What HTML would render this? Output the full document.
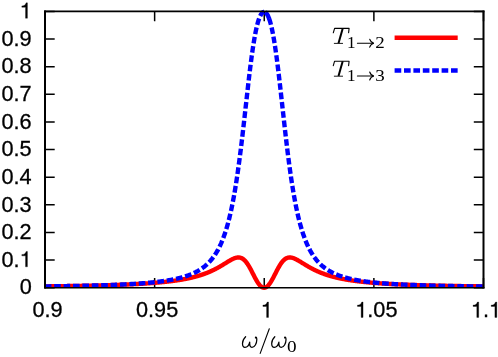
<!DOCTYPE html>
<html><head><meta charset="utf-8"><title>plot</title>
<style>
html,body{margin:0;padding:0;background:#fff;}
body{width:498px;height:357px;overflow:hidden;position:relative;}
svg{position:absolute;left:0;top:0;will-change:transform;}
text{font-family:"Liberation Sans",sans-serif;font-size:21.7px;fill:#000;stroke:#000;stroke-width:0.3px;}
.h{fill-opacity:0;stroke-opacity:0;}
.m{stroke:none;font-family:"Liberation Serif",serif;font-style:italic;font-size:25px;}
.s{stroke:none;font-family:"Liberation Serif",serif;font-style:normal;font-size:17.2px;}
</style></head><body>
<svg width="498" height="357" viewBox="0 0 498 357">
<defs><clipPath id="c"><path d="M0,0H498V288H274V292H254V288H0Z"/></clipPath></defs>

<g>
<text x="31.7" y="294.45" text-anchor="end">0</text>
<text x="31.7" y="266.83" text-anchor="end">0.<tspan class="h o">1</tspan></text>
<text x="31.7" y="239.21" text-anchor="end">0.2</text>
<text x="31.7" y="211.59" text-anchor="end">0.3</text>
<text x="31.7" y="183.97" text-anchor="end">0.4</text>
<text x="31.7" y="156.35" text-anchor="end">0.5</text>
<text x="31.7" y="128.73" text-anchor="end">0.6</text>
<text x="31.7" y="101.11" text-anchor="end">0.7</text>
<text x="31.7" y="73.49" text-anchor="end">0.8</text>
<text x="31.7" y="45.87" text-anchor="end">0.9</text>
<text x="31.7" y="18.25" text-anchor="end"><tspan class="h o">1</tspan></text>
<text x="47.50" y="317.4" text-anchor="middle">0.9</text>
<text x="157.13" y="317.4" text-anchor="middle">0.95</text>
<text x="266.75" y="317.4" text-anchor="middle"><tspan class="h o">1</tspan></text>
<text x="376.38" y="317.4" text-anchor="middle"><tspan class="h o">1</tspan>.05</text>
<text x="486.00" y="317.4" text-anchor="middle"><tspan class="h o">1</tspan>.<tspan class="h o">1</tspan></text>
</g>
<g fill="none" stroke="#000" stroke-width="1.5">
<path d="M45.0,287.65h9.7M483.5,287.65h-9.7"/>
<path d="M45.0,260.03h9.7M483.5,260.03h-9.7"/>
<path d="M45.0,232.41h9.7M483.5,232.41h-9.7"/>
<path d="M45.0,204.79h9.7M483.5,204.79h-9.7"/>
<path d="M45.0,177.17h9.7M483.5,177.17h-9.7"/>
<path d="M45.0,149.55h9.7M483.5,149.55h-9.7"/>
<path d="M45.0,121.93h9.7M483.5,121.93h-9.7"/>
<path d="M45.0,94.31h9.7M483.5,94.31h-9.7"/>
<path d="M45.0,66.69h9.7M483.5,66.69h-9.7"/>
<path d="M45.0,39.07h9.7M483.5,39.07h-9.7"/>
<path d="M45.0,11.45h9.7M483.5,11.45h-9.7"/>
<path d="M45.00,287.65v-9.7M45.00,11.45v9.7"/>
<path d="M154.63,287.65v-9.7M154.63,11.45v9.7"/>
<path d="M264.25,287.65v-9.7M264.25,11.45v9.7"/>
<path d="M373.88,287.65v-9.7M373.88,11.45v9.7"/>
<path d="M483.50,287.65v-9.7M483.50,11.45v9.7"/>
</g>
<g fill="none" stroke-linejoin="round" clip-path="url(#c)">
<path d="M44.80,286.37 L45.17,286.36 L45.53,286.36 L45.90,286.36 L46.26,286.35 L46.63,286.35 L46.99,286.34 L47.36,286.34 L47.72,286.33 L48.09,286.33 L48.46,286.33 L48.82,286.32 L49.19,286.32 L49.55,286.31 L49.92,286.31 L50.28,286.30 L50.65,286.30 L51.01,286.29 L51.38,286.29 L51.74,286.29 L52.11,286.28 L52.48,286.28 L52.84,286.27 L53.21,286.27 L53.57,286.26 L53.94,286.26 L54.30,286.25 L54.67,286.25 L55.03,286.24 L55.40,286.24 L55.77,286.23 L56.13,286.23 L56.50,286.22 L56.86,286.22 L57.23,286.21 L57.59,286.21 L57.96,286.20 L58.32,286.20 L58.69,286.20 L59.05,286.19 L59.42,286.19 L59.79,286.18 L60.15,286.17 L60.52,286.17 L60.88,286.16 L61.25,286.16 L61.61,286.15 L61.98,286.15 L62.34,286.14 L62.71,286.14 L63.07,286.13 L63.44,286.13 L63.81,286.12 L64.17,286.12 L64.54,286.11 L64.90,286.11 L65.27,286.10 L65.63,286.10 L66.00,286.09 L66.36,286.08 L66.73,286.08 L67.10,286.07 L67.46,286.07 L67.83,286.06 L68.19,286.06 L68.56,286.05 L68.92,286.04 L69.29,286.04 L69.65,286.03 L70.02,286.03 L70.39,286.02 L70.75,286.02 L71.12,286.01 L71.48,286.00 L71.85,286.00 L72.21,285.99 L72.58,285.99 L72.94,285.98 L73.31,285.97 L73.67,285.97 L74.04,285.96 L74.41,285.95 L74.77,285.95 L75.14,285.94 L75.50,285.94 L75.87,285.93 L76.23,285.92 L76.60,285.92 L76.96,285.91 L77.33,285.90 L77.70,285.90 L78.06,285.89 L78.43,285.88 L78.79,285.88 L79.16,285.87 L79.52,285.86 L79.89,285.86 L80.25,285.85 L80.62,285.84 L80.98,285.84 L81.35,285.83 L81.72,285.82 L82.08,285.81 L82.45,285.81 L82.81,285.80 L83.18,285.79 L83.54,285.79 L83.91,285.78 L84.27,285.77 L84.64,285.76 L85.00,285.76 L85.37,285.75 L85.74,285.74 L86.10,285.73 L86.47,285.73 L86.83,285.72 L87.20,285.71 L87.56,285.70 L87.93,285.70 L88.29,285.69 L88.66,285.68 L89.03,285.67 L89.39,285.66 L89.76,285.66 L90.12,285.65 L90.49,285.64 L90.85,285.63 L91.22,285.62 L91.58,285.62 L91.95,285.61 L92.32,285.60 L92.68,285.59 L93.05,285.58 L93.41,285.57 L93.78,285.57 L94.14,285.56 L94.51,285.55 L94.87,285.54 L95.24,285.53 L95.60,285.52 L95.97,285.51 L96.34,285.50 L96.70,285.49 L97.07,285.49 L97.43,285.48 L97.80,285.47 L98.16,285.46 L98.53,285.45 L98.89,285.44 L99.26,285.43 L99.63,285.42 L99.99,285.41 L100.36,285.40 L100.72,285.39 L101.09,285.38 L101.45,285.37 L101.82,285.36 L102.18,285.35 L102.55,285.34 L102.91,285.33 L103.28,285.32 L103.65,285.31 L104.01,285.30 L104.38,285.29 L104.74,285.28 L105.11,285.27 L105.47,285.26 L105.84,285.25 L106.20,285.24 L106.57,285.23 L106.93,285.22 L107.30,285.21 L107.67,285.20 L108.03,285.19 L108.40,285.18 L108.76,285.16 L109.13,285.15 L109.49,285.14 L109.86,285.13 L110.22,285.12 L110.59,285.11 L110.96,285.10 L111.32,285.08 L111.69,285.07 L112.05,285.06 L112.42,285.05 L112.78,285.04 L113.15,285.03 L113.51,285.01 L113.88,285.00 L114.24,284.99 L114.61,284.98 L114.98,284.96 L115.34,284.95 L115.71,284.94 L116.07,284.93 L116.44,284.91 L116.80,284.90 L117.17,284.89 L117.53,284.87 L117.90,284.86 L118.27,284.85 L118.63,284.83 L119.00,284.82 L119.36,284.81 L119.73,284.79 L120.09,284.78 L120.46,284.77 L120.82,284.75 L121.19,284.74 L121.56,284.72 L121.92,284.71 L122.29,284.70 L122.65,284.68 L123.02,284.67 L123.38,284.65 L123.75,284.64 L124.11,284.62 L124.48,284.61 L124.84,284.59 L125.21,284.58 L125.58,284.56 L125.94,284.55 L126.31,284.53 L126.67,284.51 L127.04,284.50 L127.40,284.48 L127.77,284.47 L128.13,284.45 L128.50,284.43 L128.86,284.42 L129.23,284.40 L129.60,284.38 L129.96,284.37 L130.33,284.35 L130.69,284.33 L131.06,284.32 L131.42,284.30 L131.79,284.28 L132.15,284.26 L132.52,284.25 L132.89,284.23 L133.25,284.21 L133.62,284.19 L133.98,284.17 L134.35,284.16 L134.71,284.14 L135.08,284.12 L135.44,284.10 L135.81,284.08 L136.17,284.06 L136.54,284.04 L136.91,284.02 L137.27,284.00 L137.64,283.98 L138.00,283.96 L138.37,283.94 L138.73,283.92 L139.10,283.90 L139.46,283.88 L139.83,283.86 L140.20,283.84 L140.56,283.82 L140.93,283.80 L141.29,283.77 L141.66,283.75 L142.02,283.73 L142.39,283.71 L142.75,283.69 L143.12,283.66 L143.49,283.64 L143.85,283.62 L144.22,283.60 L144.58,283.57 L144.95,283.55 L145.31,283.53 L145.68,283.50 L146.04,283.48 L146.41,283.45 L146.77,283.43 L147.14,283.40 L147.51,283.38 L147.87,283.36 L148.24,283.33 L148.60,283.30 L148.97,283.28 L149.33,283.25 L149.70,283.23 L150.06,283.20 L150.43,283.17 L150.80,283.15 L151.16,283.12 L151.53,283.09 L151.89,283.06 L152.26,283.04 L152.62,283.01 L152.99,282.98 L153.35,282.95 L153.72,282.92 L154.08,282.89 L154.45,282.86 L154.82,282.83 L155.18,282.80 L155.55,282.77 L155.91,282.74 L156.28,282.71 L156.64,282.68 L157.01,282.65 L157.37,282.62 L157.74,282.59 L158.10,282.55 L158.47,282.52 L158.84,282.49 L159.20,282.46 L159.57,282.42 L159.93,282.39 L160.30,282.35 L160.66,282.32 L161.03,282.29 L161.39,282.25 L161.76,282.21 L162.13,282.18 L162.49,282.14 L162.86,282.11 L163.22,282.07 L163.59,282.03 L163.95,281.99 L164.32,281.96 L164.68,281.92 L165.05,281.88 L165.42,281.84 L165.78,281.80 L166.15,281.76 L166.51,281.72 L166.88,281.68 L167.24,281.64 L167.61,281.60 L167.97,281.56 L168.34,281.51 L168.70,281.47 L169.07,281.43 L169.44,281.38 L169.80,281.34 L170.17,281.30 L170.53,281.25 L170.90,281.20 L171.26,281.16 L171.63,281.11 L171.99,281.07 L172.36,281.02 L172.73,280.97 L173.09,280.92 L173.46,280.87 L173.82,280.82 L174.19,280.77 L174.55,280.72 L174.92,280.67 L175.28,280.62 L175.65,280.57 L176.01,280.51 L176.38,280.46 L176.75,280.41 L177.11,280.35 L177.48,280.30 L177.84,280.24 L178.21,280.19 L178.57,280.13 L178.94,280.07 L179.30,280.01 L179.67,279.95 L180.03,279.90 L180.40,279.84 L180.77,279.77 L181.13,279.71 L181.50,279.65 L181.86,279.59 L182.23,279.52 L182.59,279.46 L182.96,279.40 L183.32,279.33 L183.69,279.26 L184.06,279.20 L184.42,279.13 L184.79,279.06 L185.15,278.99 L185.52,278.92 L185.88,278.85 L186.25,278.78 L186.61,278.70 L186.98,278.63 L187.35,278.55 L187.71,278.48 L188.08,278.40 L188.44,278.33 L188.81,278.25 L189.17,278.17 L189.54,278.09 L189.90,278.01 L190.27,277.92 L190.63,277.84 L191.00,277.76 L191.37,277.67 L191.73,277.59 L192.10,277.50 L192.46,277.41 L192.83,277.32 L193.19,277.23 L193.56,277.14 L193.92,277.05 L194.29,276.95 L194.66,276.86 L195.02,276.76 L195.39,276.67 L195.75,276.57 L196.12,276.47 L196.48,276.37 L196.85,276.27 L197.21,276.16 L197.58,276.06 L197.94,275.95 L198.31,275.85 L198.68,275.74 L199.04,275.63 L199.41,275.52 L199.77,275.40 L200.14,275.29 L200.50,275.17 L200.87,275.06 L201.23,274.94 L201.60,274.82 L201.96,274.70 L202.33,274.58 L202.70,274.45 L203.06,274.33 L203.43,274.20 L203.79,274.07 L204.16,273.94 L204.52,273.81 L204.89,273.67 L205.25,273.54 L205.62,273.40 L205.99,273.26 L206.35,273.12 L206.72,272.98 L207.08,272.83 L207.45,272.69 L207.81,272.54 L208.18,272.39 L208.54,272.24 L208.91,272.09 L209.28,271.93 L209.64,271.77 L210.01,271.61 L210.37,271.45 L210.74,271.29 L211.10,271.13 L211.47,270.96 L211.83,270.79 L212.20,270.62 L212.56,270.45 L212.93,270.27 L213.30,270.10 L213.66,269.92 L214.03,269.74 L214.39,269.56 L214.76,269.37 L215.12,269.19 L215.49,269.00 L215.85,268.81 L216.22,268.62 L216.59,268.42 L216.95,268.22 L217.32,268.03 L217.68,267.83 L218.05,267.62 L218.41,267.42 L218.78,267.22 L219.14,267.01 L219.51,266.80 L219.87,266.59 L220.24,266.38 L220.61,266.16 L220.97,265.95 L221.34,265.73 L221.70,265.51 L222.07,265.29 L222.43,265.07 L222.80,264.85 L223.16,264.63 L223.53,264.40 L223.89,264.18 L224.26,263.95 L224.63,263.73 L224.99,263.50 L225.36,263.27 L225.72,263.05 L226.09,262.82 L226.45,262.59 L226.82,262.37 L227.18,262.14 L227.55,261.92 L227.92,261.70 L228.28,261.48 L228.65,261.26 L229.01,261.04 L229.38,260.82 L229.74,260.61 L230.11,260.40 L230.47,260.19 L230.84,259.99 L231.21,259.79 L231.57,259.60 L231.94,259.41 L232.30,259.23 L232.67,259.05 L233.03,258.88 L233.40,258.71 L233.76,258.56 L234.13,258.41 L234.49,258.27 L234.86,258.14 L235.23,258.02 L235.59,257.91 L235.96,257.81 L236.32,257.72 L236.69,257.64 L237.05,257.58 L237.42,257.53 L237.78,257.49 L238.15,257.47 L238.52,257.47 L238.88,257.48 L239.25,257.51 L239.61,257.56 L239.98,257.63 L240.34,257.71 L240.71,257.82 L241.07,257.95 L241.44,258.09 L241.80,258.26 L242.17,258.45 L242.54,258.67 L242.90,258.90 L243.27,259.16 L243.63,259.45 L244.00,259.76 L244.36,260.09 L244.73,260.44 L245.09,260.82 L245.46,261.23 L245.82,261.66 L246.19,262.11 L246.56,262.59 L246.92,263.08 L247.29,263.60 L247.65,264.15 L248.02,264.71 L248.38,265.29 L248.75,265.90 L249.11,266.52 L249.48,267.15 L249.85,267.80 L250.21,268.47 L250.58,269.15 L250.94,269.84 L251.31,270.54 L251.67,271.25 L252.04,271.96 L252.40,272.68 L252.77,273.40 L253.14,274.12 L253.50,274.84 L253.87,275.56 L254.23,276.27 L254.60,276.97 L254.96,277.67 L255.33,278.36 L255.69,279.03 L256.06,279.69 L256.42,280.33 L256.79,280.96 L257.16,281.56 L257.52,282.15 L257.89,282.71 L258.25,283.25 L258.62,283.76 L258.98,284.25 L259.35,284.71 L259.71,285.14 L260.08,285.54 L260.45,285.90 L260.81,286.24 L261.18,286.54 L261.54,286.81 L261.91,287.04 L262.27,287.24 L262.64,287.41 L263.00,287.54 L263.37,287.63 L263.73,287.68 L264.10,287.70 L264.47,287.68 L264.83,287.63 L265.20,287.54 L265.56,287.41 L265.93,287.24 L266.29,287.04 L266.66,286.81 L267.02,286.54 L267.39,286.24 L267.75,285.90 L268.12,285.54 L268.49,285.14 L268.85,284.71 L269.22,284.25 L269.58,283.76 L269.95,283.25 L270.31,282.71 L270.68,282.15 L271.04,281.56 L271.41,280.96 L271.78,280.33 L272.14,279.69 L272.51,279.03 L272.87,278.36 L273.24,277.67 L273.60,276.97 L273.97,276.27 L274.33,275.56 L274.70,274.84 L275.07,274.12 L275.43,273.40 L275.80,272.68 L276.16,271.96 L276.53,271.25 L276.89,270.54 L277.26,269.84 L277.62,269.15 L277.99,268.47 L278.35,267.80 L278.72,267.15 L279.09,266.52 L279.45,265.90 L279.82,265.29 L280.18,264.71 L280.55,264.15 L280.91,263.60 L281.28,263.08 L281.64,262.59 L282.01,262.11 L282.37,261.66 L282.74,261.23 L283.11,260.82 L283.47,260.44 L283.84,260.09 L284.20,259.76 L284.57,259.45 L284.93,259.16 L285.30,258.90 L285.66,258.67 L286.03,258.45 L286.40,258.26 L286.76,258.09 L287.13,257.95 L287.49,257.82 L287.86,257.71 L288.22,257.63 L288.59,257.56 L288.95,257.51 L289.32,257.48 L289.69,257.47 L290.05,257.47 L290.42,257.49 L290.78,257.53 L291.15,257.58 L291.51,257.64 L291.88,257.72 L292.24,257.81 L292.61,257.91 L292.97,258.02 L293.34,258.14 L293.71,258.27 L294.07,258.41 L294.44,258.56 L294.80,258.71 L295.17,258.88 L295.53,259.05 L295.90,259.23 L296.26,259.41 L296.63,259.60 L297.00,259.79 L297.36,259.99 L297.73,260.19 L298.09,260.40 L298.46,260.61 L298.82,260.82 L299.19,261.04 L299.55,261.26 L299.92,261.48 L300.28,261.70 L300.65,261.92 L301.02,262.14 L301.38,262.37 L301.75,262.59 L302.11,262.82 L302.48,263.05 L302.84,263.27 L303.21,263.50 L303.57,263.73 L303.94,263.95 L304.30,264.18 L304.67,264.40 L305.04,264.63 L305.40,264.85 L305.77,265.07 L306.13,265.29 L306.50,265.51 L306.86,265.73 L307.23,265.95 L307.59,266.16 L307.96,266.38 L308.33,266.59 L308.69,266.80 L309.06,267.01 L309.42,267.22 L309.79,267.42 L310.15,267.62 L310.52,267.83 L310.88,268.03 L311.25,268.22 L311.62,268.42 L311.98,268.62 L312.35,268.81 L312.71,269.00 L313.08,269.19 L313.44,269.37 L313.81,269.56 L314.17,269.74 L314.54,269.92 L314.90,270.10 L315.27,270.27 L315.64,270.45 L316.00,270.62 L316.37,270.79 L316.73,270.96 L317.10,271.13 L317.46,271.29 L317.83,271.45 L318.19,271.61 L318.56,271.77 L318.93,271.93 L319.29,272.09 L319.66,272.24 L320.02,272.39 L320.39,272.54 L320.75,272.69 L321.12,272.83 L321.48,272.98 L321.85,273.12 L322.21,273.26 L322.58,273.40 L322.95,273.54 L323.31,273.67 L323.68,273.81 L324.04,273.94 L324.41,274.07 L324.77,274.20 L325.14,274.33 L325.50,274.45 L325.87,274.58 L326.23,274.70 L326.60,274.82 L326.97,274.94 L327.33,275.06 L327.70,275.17 L328.06,275.29 L328.43,275.40 L328.79,275.52 L329.16,275.63 L329.52,275.74 L329.89,275.85 L330.26,275.95 L330.62,276.06 L330.99,276.16 L331.35,276.27 L331.72,276.37 L332.08,276.47 L332.45,276.57 L332.81,276.67 L333.18,276.76 L333.55,276.86 L333.91,276.95 L334.28,277.05 L334.64,277.14 L335.01,277.23 L335.37,277.32 L335.74,277.41 L336.10,277.50 L336.47,277.59 L336.83,277.67 L337.20,277.76 L337.57,277.84 L337.93,277.92 L338.30,278.01 L338.66,278.09 L339.03,278.17 L339.39,278.25 L339.76,278.33 L340.12,278.40 L340.49,278.48 L340.86,278.55 L341.22,278.63 L341.59,278.70 L341.95,278.78 L342.32,278.85 L342.68,278.92 L343.05,278.99 L343.41,279.06 L343.78,279.13 L344.14,279.20 L344.51,279.26 L344.88,279.33 L345.24,279.40 L345.61,279.46 L345.97,279.52 L346.34,279.59 L346.70,279.65 L347.07,279.71 L347.43,279.77 L347.80,279.84 L348.16,279.90 L348.53,279.95 L348.90,280.01 L349.26,280.07 L349.63,280.13 L349.99,280.19 L350.36,280.24 L350.72,280.30 L351.09,280.35 L351.45,280.41 L351.82,280.46 L352.19,280.51 L352.55,280.57 L352.92,280.62 L353.28,280.67 L353.65,280.72 L354.01,280.77 L354.38,280.82 L354.74,280.87 L355.11,280.92 L355.48,280.97 L355.84,281.02 L356.21,281.07 L356.57,281.11 L356.94,281.16 L357.30,281.20 L357.67,281.25 L358.03,281.30 L358.40,281.34 L358.76,281.38 L359.13,281.43 L359.50,281.47 L359.86,281.51 L360.23,281.56 L360.59,281.60 L360.96,281.64 L361.32,281.68 L361.69,281.72 L362.05,281.76 L362.42,281.80 L362.79,281.84 L363.15,281.88 L363.52,281.92 L363.88,281.96 L364.25,281.99 L364.61,282.03 L364.98,282.07 L365.34,282.11 L365.71,282.14 L366.07,282.18 L366.44,282.21 L366.81,282.25 L367.17,282.29 L367.54,282.32 L367.90,282.35 L368.27,282.39 L368.63,282.42 L369.00,282.46 L369.36,282.49 L369.73,282.52 L370.09,282.55 L370.46,282.59 L370.83,282.62 L371.19,282.65 L371.56,282.68 L371.92,282.71 L372.29,282.74 L372.65,282.77 L373.02,282.80 L373.38,282.83 L373.75,282.86 L374.12,282.89 L374.48,282.92 L374.85,282.95 L375.21,282.98 L375.58,283.01 L375.94,283.04 L376.31,283.06 L376.67,283.09 L377.04,283.12 L377.41,283.15 L377.77,283.17 L378.14,283.20 L378.50,283.23 L378.87,283.25 L379.23,283.28 L379.60,283.30 L379.96,283.33 L380.33,283.36 L380.69,283.38 L381.06,283.40 L381.43,283.43 L381.79,283.45 L382.16,283.48 L382.52,283.50 L382.89,283.53 L383.25,283.55 L383.62,283.57 L383.98,283.60 L384.35,283.62 L384.72,283.64 L385.08,283.66 L385.45,283.69 L385.81,283.71 L386.18,283.73 L386.54,283.75 L386.91,283.77 L387.27,283.80 L387.64,283.82 L388.00,283.84 L388.37,283.86 L388.74,283.88 L389.10,283.90 L389.47,283.92 L389.83,283.94 L390.20,283.96 L390.56,283.98 L390.93,284.00 L391.29,284.02 L391.66,284.04 L392.02,284.06 L392.39,284.08 L392.76,284.10 L393.12,284.12 L393.49,284.14 L393.85,284.16 L394.22,284.17 L394.58,284.19 L394.95,284.21 L395.31,284.23 L395.68,284.25 L396.05,284.26 L396.41,284.28 L396.78,284.30 L397.14,284.32 L397.51,284.33 L397.87,284.35 L398.24,284.37 L398.60,284.38 L398.97,284.40 L399.34,284.42 L399.70,284.43 L400.07,284.45 L400.43,284.47 L400.80,284.48 L401.16,284.50 L401.53,284.51 L401.89,284.53 L402.26,284.55 L402.62,284.56 L402.99,284.58 L403.36,284.59 L403.72,284.61 L404.09,284.62 L404.45,284.64 L404.82,284.65 L405.18,284.67 L405.55,284.68 L405.91,284.70 L406.28,284.71 L406.64,284.72 L407.01,284.74 L407.38,284.75 L407.74,284.77 L408.11,284.78 L408.47,284.79 L408.84,284.81 L409.20,284.82 L409.57,284.83 L409.93,284.85 L410.30,284.86 L410.67,284.87 L411.03,284.89 L411.40,284.90 L411.76,284.91 L412.13,284.93 L412.49,284.94 L412.86,284.95 L413.22,284.96 L413.59,284.98 L413.95,284.99 L414.32,285.00 L414.69,285.01 L415.05,285.03 L415.42,285.04 L415.78,285.05 L416.15,285.06 L416.51,285.07 L416.88,285.08 L417.24,285.10 L417.61,285.11 L417.98,285.12 L418.34,285.13 L418.71,285.14 L419.07,285.15 L419.44,285.16 L419.80,285.18 L420.17,285.19 L420.53,285.20 L420.90,285.21 L421.27,285.22 L421.63,285.23 L422.00,285.24 L422.36,285.25 L422.73,285.26 L423.09,285.27 L423.46,285.28 L423.82,285.29 L424.19,285.30 L424.55,285.31 L424.92,285.32 L425.29,285.33 L425.65,285.34 L426.02,285.35 L426.38,285.36 L426.75,285.37 L427.11,285.38 L427.48,285.39 L427.84,285.40 L428.21,285.41 L428.58,285.42 L428.94,285.43 L429.31,285.44 L429.67,285.45 L430.04,285.46 L430.40,285.47 L430.77,285.48 L431.13,285.49 L431.50,285.49 L431.86,285.50 L432.23,285.51 L432.60,285.52 L432.96,285.53 L433.33,285.54 L433.69,285.55 L434.06,285.56 L434.42,285.57 L434.79,285.57 L435.15,285.58 L435.52,285.59 L435.88,285.60 L436.25,285.61 L436.62,285.62 L436.98,285.62 L437.35,285.63 L437.71,285.64 L438.08,285.65 L438.44,285.66 L438.81,285.66 L439.17,285.67 L439.54,285.68 L439.91,285.69 L440.27,285.70 L440.64,285.70 L441.00,285.71 L441.37,285.72 L441.73,285.73 L442.10,285.73 L442.46,285.74 L442.83,285.75 L443.20,285.76 L443.56,285.76 L443.93,285.77 L444.29,285.78 L444.66,285.79 L445.02,285.79 L445.39,285.80 L445.75,285.81 L446.12,285.81 L446.48,285.82 L446.85,285.83 L447.22,285.84 L447.58,285.84 L447.95,285.85 L448.31,285.86 L448.68,285.86 L449.04,285.87 L449.41,285.88 L449.77,285.88 L450.14,285.89 L450.50,285.90 L450.87,285.90 L451.24,285.91 L451.60,285.92 L451.97,285.92 L452.33,285.93 L452.70,285.94 L453.06,285.94 L453.43,285.95 L453.79,285.95 L454.16,285.96 L454.53,285.97 L454.89,285.97 L455.26,285.98 L455.62,285.99 L455.99,285.99 L456.35,286.00 L456.72,286.00 L457.08,286.01 L457.45,286.02 L457.81,286.02 L458.18,286.03 L458.55,286.03 L458.91,286.04 L459.28,286.04 L459.64,286.05 L460.01,286.06 L460.37,286.06 L460.74,286.07 L461.10,286.07 L461.47,286.08 L461.84,286.08 L462.20,286.09 L462.57,286.10 L462.93,286.10 L463.30,286.11 L463.66,286.11 L464.03,286.12 L464.39,286.12 L464.76,286.13 L465.13,286.13 L465.49,286.14 L465.86,286.14 L466.22,286.15 L466.59,286.15 L466.95,286.16 L467.32,286.16 L467.68,286.17 L468.05,286.17 L468.41,286.18 L468.78,286.19 L469.15,286.19 L469.51,286.20 L469.88,286.20 L470.24,286.20 L470.61,286.21 L470.97,286.21 L471.34,286.22 L471.70,286.22 L472.07,286.23 L472.44,286.23 L472.80,286.24 L473.17,286.24 L473.53,286.25 L473.90,286.25 L474.26,286.26 L474.63,286.26 L474.99,286.27 L475.36,286.27 L475.72,286.28 L476.09,286.28 L476.46,286.29 L476.82,286.29 L477.19,286.29 L477.55,286.30 L477.92,286.30 L478.28,286.31 L478.65,286.31 L479.01,286.32 L479.38,286.32 L479.75,286.33 L480.11,286.33 L480.48,286.33 L480.84,286.34 L481.21,286.34 L481.57,286.35 L481.94,286.35 L482.30,286.36 L482.67,286.36 L483.03,286.36 L483.40,286.37" stroke="#ff0000" stroke-width="4.4"/>
<path d="M394.6,37.7H457.7" stroke="#ff0000" stroke-width="4.4"/>
<path d="M44.80,286.40 L45.17,286.39 L45.53,286.39 L45.90,286.38 L46.26,286.38 L46.63,286.38 L46.99,286.37 L47.36,286.37 L47.72,286.36 L48.09,286.36 L48.46,286.35 L48.82,286.35 L49.19,286.34 L49.55,286.34 L49.92,286.33 L50.28,286.33 L50.65,286.32 L51.01,286.32 L51.38,286.31 L51.74,286.31 L52.11,286.30 L52.48,286.30 L52.84,286.29 L53.21,286.29 L53.57,286.28 L53.94,286.28 L54.30,286.27 L54.67,286.27 L55.03,286.26 L55.40,286.26 L55.77,286.25 L56.13,286.25 L56.50,286.24 L56.86,286.24 L57.23,286.23 L57.59,286.23 L57.96,286.22 L58.32,286.22 L58.69,286.21 L59.05,286.21 L59.42,286.20 L59.79,286.20 L60.15,286.19 L60.52,286.18 L60.88,286.18 L61.25,286.17 L61.61,286.17 L61.98,286.16 L62.34,286.16 L62.71,286.15 L63.07,286.14 L63.44,286.14 L63.81,286.13 L64.17,286.13 L64.54,286.12 L64.90,286.11 L65.27,286.11 L65.63,286.10 L66.00,286.10 L66.36,286.09 L66.73,286.08 L67.10,286.08 L67.46,286.07 L67.83,286.07 L68.19,286.06 L68.56,286.05 L68.92,286.05 L69.29,286.04 L69.65,286.03 L70.02,286.03 L70.39,286.02 L70.75,286.02 L71.12,286.01 L71.48,286.00 L71.85,286.00 L72.21,285.99 L72.58,285.98 L72.94,285.98 L73.31,285.97 L73.67,285.96 L74.04,285.95 L74.41,285.95 L74.77,285.94 L75.14,285.93 L75.50,285.93 L75.87,285.92 L76.23,285.91 L76.60,285.91 L76.96,285.90 L77.33,285.89 L77.70,285.88 L78.06,285.88 L78.43,285.87 L78.79,285.86 L79.16,285.85 L79.52,285.85 L79.89,285.84 L80.25,285.83 L80.62,285.82 L80.98,285.82 L81.35,285.81 L81.72,285.80 L82.08,285.79 L82.45,285.78 L82.81,285.78 L83.18,285.77 L83.54,285.76 L83.91,285.75 L84.27,285.74 L84.64,285.74 L85.00,285.73 L85.37,285.72 L85.74,285.71 L86.10,285.70 L86.47,285.69 L86.83,285.69 L87.20,285.68 L87.56,285.67 L87.93,285.66 L88.29,285.65 L88.66,285.64 L89.03,285.63 L89.39,285.62 L89.76,285.61 L90.12,285.61 L90.49,285.60 L90.85,285.59 L91.22,285.58 L91.58,285.57 L91.95,285.56 L92.32,285.55 L92.68,285.54 L93.05,285.53 L93.41,285.52 L93.78,285.51 L94.14,285.50 L94.51,285.49 L94.87,285.48 L95.24,285.47 L95.60,285.46 L95.97,285.45 L96.34,285.44 L96.70,285.43 L97.07,285.42 L97.43,285.41 L97.80,285.40 L98.16,285.39 L98.53,285.38 L98.89,285.37 L99.26,285.36 L99.63,285.35 L99.99,285.34 L100.36,285.33 L100.72,285.32 L101.09,285.30 L101.45,285.29 L101.82,285.28 L102.18,285.27 L102.55,285.26 L102.91,285.25 L103.28,285.24 L103.65,285.22 L104.01,285.21 L104.38,285.20 L104.74,285.19 L105.11,285.18 L105.47,285.16 L105.84,285.15 L106.20,285.14 L106.57,285.13 L106.93,285.12 L107.30,285.10 L107.67,285.09 L108.03,285.08 L108.40,285.06 L108.76,285.05 L109.13,285.04 L109.49,285.03 L109.86,285.01 L110.22,285.00 L110.59,284.99 L110.96,284.97 L111.32,284.96 L111.69,284.94 L112.05,284.93 L112.42,284.92 L112.78,284.90 L113.15,284.89 L113.51,284.87 L113.88,284.86 L114.24,284.85 L114.61,284.83 L114.98,284.82 L115.34,284.80 L115.71,284.79 L116.07,284.77 L116.44,284.76 L116.80,284.74 L117.17,284.73 L117.53,284.71 L117.90,284.69 L118.27,284.68 L118.63,284.66 L119.00,284.65 L119.36,284.63 L119.73,284.61 L120.09,284.60 L120.46,284.58 L120.82,284.57 L121.19,284.55 L121.56,284.53 L121.92,284.51 L122.29,284.50 L122.65,284.48 L123.02,284.46 L123.38,284.44 L123.75,284.43 L124.11,284.41 L124.48,284.39 L124.84,284.37 L125.21,284.35 L125.58,284.34 L125.94,284.32 L126.31,284.30 L126.67,284.28 L127.04,284.26 L127.40,284.24 L127.77,284.22 L128.13,284.20 L128.50,284.18 L128.86,284.16 L129.23,284.14 L129.60,284.12 L129.96,284.10 L130.33,284.08 L130.69,284.06 L131.06,284.04 L131.42,284.02 L131.79,284.00 L132.15,283.97 L132.52,283.95 L132.89,283.93 L133.25,283.91 L133.62,283.89 L133.98,283.86 L134.35,283.84 L134.71,283.82 L135.08,283.79 L135.44,283.77 L135.81,283.75 L136.17,283.72 L136.54,283.70 L136.91,283.67 L137.27,283.65 L137.64,283.62 L138.00,283.60 L138.37,283.57 L138.73,283.55 L139.10,283.52 L139.46,283.50 L139.83,283.47 L140.20,283.44 L140.56,283.42 L140.93,283.39 L141.29,283.36 L141.66,283.34 L142.02,283.31 L142.39,283.28 L142.75,283.25 L143.12,283.22 L143.49,283.19 L143.85,283.17 L144.22,283.14 L144.58,283.11 L144.95,283.08 L145.31,283.05 L145.68,283.02 L146.04,282.99 L146.41,282.95 L146.77,282.92 L147.14,282.89 L147.51,282.86 L147.87,282.83 L148.24,282.79 L148.60,282.76 L148.97,282.73 L149.33,282.69 L149.70,282.66 L150.06,282.62 L150.43,282.59 L150.80,282.55 L151.16,282.52 L151.53,282.48 L151.89,282.45 L152.26,282.41 L152.62,282.37 L152.99,282.33 L153.35,282.30 L153.72,282.26 L154.08,282.22 L154.45,282.18 L154.82,282.14 L155.18,282.10 L155.55,282.06 L155.91,282.02 L156.28,281.98 L156.64,281.94 L157.01,281.89 L157.37,281.85 L157.74,281.81 L158.10,281.76 L158.47,281.72 L158.84,281.67 L159.20,281.63 L159.57,281.58 L159.93,281.54 L160.30,281.49 L160.66,281.44 L161.03,281.40 L161.39,281.35 L161.76,281.30 L162.13,281.25 L162.49,281.20 L162.86,281.15 L163.22,281.10 L163.59,281.04 L163.95,280.99 L164.32,280.94 L164.68,280.88 L165.05,280.83 L165.42,280.77 L165.78,280.72 L166.15,280.66 L166.51,280.60 L166.88,280.55 L167.24,280.49 L167.61,280.43 L167.97,280.37 L168.34,280.31 L168.70,280.25 L169.07,280.18 L169.44,280.12 L169.80,280.06 L170.17,279.99 L170.53,279.93 L170.90,279.86 L171.26,279.79 L171.63,279.72 L171.99,279.65 L172.36,279.58 L172.73,279.51 L173.09,279.44 L173.46,279.37 L173.82,279.29 L174.19,279.22 L174.55,279.14 L174.92,279.07 L175.28,278.99 L175.65,278.91 L176.01,278.83 L176.38,278.75 L176.75,278.66 L177.11,278.58 L177.48,278.50 L177.84,278.41 L178.21,278.32 L178.57,278.24 L178.94,278.15 L179.30,278.05 L179.67,277.96 L180.03,277.87 L180.40,277.77 L180.77,277.68 L181.13,277.58 L181.50,277.48 L181.86,277.38 L182.23,277.28 L182.59,277.17 L182.96,277.07 L183.32,276.96 L183.69,276.85 L184.06,276.74 L184.42,276.63 L184.79,276.52 L185.15,276.40 L185.52,276.29 L185.88,276.17 L186.25,276.05 L186.61,275.93 L186.98,275.80 L187.35,275.67 L187.71,275.55 L188.08,275.42 L188.44,275.28 L188.81,275.15 L189.17,275.01 L189.54,274.87 L189.90,274.73 L190.27,274.59 L190.63,274.44 L191.00,274.29 L191.37,274.14 L191.73,273.99 L192.10,273.83 L192.46,273.67 L192.83,273.51 L193.19,273.35 L193.56,273.18 L193.92,273.01 L194.29,272.83 L194.66,272.66 L195.02,272.48 L195.39,272.30 L195.75,272.11 L196.12,271.92 L196.48,271.73 L196.85,271.53 L197.21,271.33 L197.58,271.13 L197.94,270.92 L198.31,270.71 L198.68,270.50 L199.04,270.28 L199.41,270.05 L199.77,269.83 L200.14,269.60 L200.50,269.36 L200.87,269.12 L201.23,268.87 L201.60,268.62 L201.96,268.37 L202.33,268.11 L202.70,267.84 L203.06,267.57 L203.43,267.30 L203.79,267.02 L204.16,266.73 L204.52,266.44 L204.89,266.14 L205.25,265.83 L205.62,265.52 L205.99,265.20 L206.35,264.88 L206.72,264.55 L207.08,264.21 L207.45,263.86 L207.81,263.51 L208.18,263.15 L208.54,262.78 L208.91,262.41 L209.28,262.02 L209.64,261.63 L210.01,261.23 L210.37,260.82 L210.74,260.40 L211.10,259.97 L211.47,259.53 L211.83,259.08 L212.20,258.63 L212.56,258.16 L212.93,257.68 L213.30,257.19 L213.66,256.68 L214.03,256.17 L214.39,255.64 L214.76,255.10 L215.12,254.55 L215.49,253.99 L215.85,253.41 L216.22,252.82 L216.59,252.21 L216.95,251.59 L217.32,250.96 L217.68,250.31 L218.05,249.64 L218.41,248.95 L218.78,248.25 L219.14,247.53 L219.51,246.80 L219.87,246.04 L220.24,245.27 L220.61,244.48 L220.97,243.66 L221.34,242.83 L221.70,241.97 L222.07,241.10 L222.43,240.20 L222.80,239.27 L223.16,238.33 L223.53,237.36 L223.89,236.36 L224.26,235.34 L224.63,234.29 L224.99,233.21 L225.36,232.11 L225.72,230.97 L226.09,229.81 L226.45,228.62 L226.82,227.39 L227.18,226.13 L227.55,224.84 L227.92,223.52 L228.28,222.16 L228.65,220.77 L229.01,219.34 L229.38,217.87 L229.74,216.36 L230.11,214.82 L230.47,213.23 L230.84,211.60 L231.21,209.94 L231.57,208.22 L231.94,206.47 L232.30,204.67 L232.67,202.83 L233.03,200.94 L233.40,199.00 L233.76,197.02 L234.13,194.99 L234.49,192.91 L234.86,190.78 L235.23,188.60 L235.59,186.38 L235.96,184.10 L236.32,181.77 L236.69,179.39 L237.05,176.96 L237.42,174.48 L237.78,171.94 L238.15,169.36 L238.52,166.73 L238.88,164.05 L239.25,161.31 L239.61,158.54 L239.98,155.71 L240.34,152.84 L240.71,149.92 L241.07,146.97 L241.44,143.97 L241.80,140.93 L242.17,137.85 L242.54,134.75 L242.90,131.61 L243.27,128.44 L243.63,125.24 L244.00,122.03 L244.36,118.79 L244.73,115.54 L245.09,112.28 L245.46,109.01 L245.82,105.73 L246.19,102.46 L246.56,99.19 L246.92,95.93 L247.29,92.69 L247.65,89.46 L248.02,86.26 L248.38,83.09 L248.75,79.95 L249.11,76.84 L249.48,73.78 L249.85,70.76 L250.21,67.80 L250.58,64.89 L250.94,62.04 L251.31,59.25 L251.67,56.52 L252.04,53.87 L252.40,51.28 L252.77,48.78 L253.14,46.35 L253.50,44.00 L253.87,41.73 L254.23,39.54 L254.60,37.44 L254.96,35.42 L255.33,33.49 L255.69,31.65 L256.06,29.90 L256.42,28.23 L256.79,26.64 L257.16,25.15 L257.52,23.74 L257.89,22.41 L258.25,21.17 L258.62,20.02 L258.98,18.94 L259.35,17.95 L259.71,17.03 L260.08,16.19 L260.45,15.44 L260.81,14.75 L261.18,14.15 L261.54,13.61 L261.91,13.15 L262.27,12.77 L262.64,12.45 L263.00,12.21 L263.37,12.03 L263.73,11.93 L264.10,11.89" stroke="#0000ff" stroke-width="4.4" stroke-dasharray="6.65 2.75"/>
<path d="M265.20,12.21 L265.56,12.45 L265.93,12.77 L266.29,13.16 L266.66,13.62 L267.02,14.15 L267.39,14.76 L267.75,15.44 L268.12,16.20 L268.49,17.04 L268.85,17.96 L269.22,18.96 L269.58,20.04 L269.95,21.20 L270.31,22.44 L270.68,23.78 L271.04,25.19 L271.41,26.70 L271.78,28.29 L272.14,29.96 L272.51,31.73 L272.87,33.58 L273.24,35.53 L273.60,37.56 L273.97,39.67 L274.33,41.87 L274.70,44.16 L275.07,46.53 L275.43,48.98 L275.80,51.50 L276.16,54.11 L276.53,56.78 L276.89,59.53 L277.26,62.34 L277.62,65.22 L277.99,68.15 L278.35,71.14 L278.72,74.19 L279.09,77.27 L279.45,80.41 L279.82,83.57 L280.18,86.78 L280.55,90.01 L280.91,93.26 L281.28,96.53 L281.64,99.82 L282.01,103.11 L282.37,106.41 L282.74,109.72 L283.11,113.01 L283.47,116.30 L283.84,119.58 L284.20,122.84 L284.57,126.08 L284.93,129.30 L285.30,132.49 L285.66,135.65 L286.03,138.78 L286.40,141.88 L286.76,144.93 L287.13,147.95 L287.49,150.92 L287.86,153.85 L288.22,156.74 L288.59,159.58 L288.95,162.37 L289.32,165.12 L289.69,167.81 L290.05,170.45 L290.42,173.04 L290.78,175.58 L291.15,178.07 L291.51,180.51 L291.88,182.90 L292.24,185.23 L292.61,187.51 L292.97,189.74 L293.34,191.92 L293.71,194.05 L294.07,196.13 L294.44,198.17 L294.80,200.15 L295.17,202.08 L295.53,203.97 L295.90,205.81 L296.26,207.61 L296.63,209.36 L297.00,211.07 L297.36,212.73 L297.73,214.35 L298.09,215.93 L298.46,217.47 L298.82,218.97 L299.19,220.44 L299.55,221.86 L299.92,223.25 L300.28,224.60 L300.65,225.92 L301.02,227.20 L301.38,228.46 L301.75,229.67 L302.11,230.86 L302.48,232.02 L302.84,233.14 L303.21,234.24 L303.57,235.31 L303.94,236.35 L304.30,237.36 L304.67,238.35 L305.04,239.32 L305.40,240.26 L305.77,241.17 L306.13,242.06 L306.50,242.93 L306.86,243.78 L307.23,244.61 L307.59,245.41 L307.96,246.20 L308.33,246.96 L308.69,247.71 L309.06,248.44 L309.42,249.15 L309.79,249.84 L310.15,250.52 L310.52,251.18 L310.88,251.82 L311.25,252.45 L311.62,253.06 L311.98,253.66 L312.35,254.25 L312.71,254.82 L313.08,255.37 L313.44,255.92 L313.81,256.45 L314.17,256.97 L314.54,257.48 L314.90,257.97 L315.27,258.45 L315.64,258.93 L316.00,259.39 L316.37,259.84 L316.73,260.28 L317.10,260.72 L317.46,261.14 L317.83,261.55 L318.19,261.96 L318.56,262.35 L318.93,262.74 L319.29,263.12 L319.66,263.49 L320.02,263.85 L320.39,264.20 L320.75,264.55 L321.12,264.89 L321.48,265.22 L321.85,265.55 L322.21,265.87 L322.58,266.18 L322.95,266.48 L323.31,266.78 L323.68,267.08 L324.04,267.36 L324.41,267.65 L324.77,267.92 L325.14,268.19 L325.50,268.46 L325.87,268.72 L326.23,268.97 L326.60,269.22 L326.97,269.47 L327.33,269.71 L327.70,269.95 L328.06,270.18 L328.43,270.41 L328.79,270.63 L329.16,270.85 L329.52,271.06 L329.89,271.27 L330.26,271.48 L330.62,271.68 L330.99,271.88 L331.35,272.08 L331.72,272.27 L332.08,272.46 L332.45,272.64 L332.81,272.83 L333.18,273.00 L333.55,273.18 L333.91,273.35 L334.28,273.52 L334.64,273.69 L335.01,273.85 L335.37,274.01 L335.74,274.17 L336.10,274.33 L336.47,274.48 L336.83,274.63 L337.20,274.78 L337.57,274.92 L337.93,275.07 L338.30,275.21 L338.66,275.35 L339.03,275.48 L339.39,275.62 L339.76,275.75 L340.12,275.88 L340.49,276.00 L340.86,276.13 L341.22,276.25 L341.59,276.37 L341.95,276.49 L342.32,276.61 L342.68,276.73 L343.05,276.84 L343.41,276.95 L343.78,277.07 L344.14,277.17 L344.51,277.28 L344.88,277.39 L345.24,277.49 L345.61,277.59 L345.97,277.70 L346.34,277.80 L346.70,277.89 L347.07,277.99 L347.43,278.09 L347.80,278.18 L348.16,278.27 L348.53,278.36 L348.90,278.45 L349.26,278.54 L349.63,278.63 L349.99,278.71 L350.36,278.80 L350.72,278.88 L351.09,278.97 L351.45,279.05 L351.82,279.13 L352.19,279.21 L352.55,279.28 L352.92,279.36 L353.28,279.44 L353.65,279.51 L354.01,279.59 L354.38,279.66 L354.74,279.73 L355.11,279.80 L355.48,279.87 L355.84,279.94 L356.21,280.01 L356.57,280.08 L356.94,280.14 L357.30,280.21 L357.67,280.27 L358.03,280.34 L358.40,280.40 L358.76,280.46 L359.13,280.53 L359.50,280.59 L359.86,280.65 L360.23,280.71 L360.59,280.76 L360.96,280.82 L361.32,280.88 L361.69,280.93 L362.05,280.99 L362.42,281.05 L362.79,281.10 L363.15,281.15 L363.52,281.21 L363.88,281.26 L364.25,281.31 L364.61,281.36 L364.98,281.41 L365.34,281.46 L365.71,281.51 L366.07,281.56 L366.44,281.61 L366.81,281.66 L367.17,281.70 L367.54,281.75 L367.90,281.80 L368.27,281.84 L368.63,281.89 L369.00,281.93 L369.36,281.97 L369.73,282.02 L370.09,282.06 L370.46,282.10 L370.83,282.14 L371.19,282.19 L371.56,282.23 L371.92,282.27 L372.29,282.31 L372.65,282.35 L373.02,282.39 L373.38,282.43 L373.75,282.46 L374.12,282.50 L374.48,282.54 L374.85,282.58 L375.21,282.61 L375.58,282.65 L375.94,282.69 L376.31,282.72 L376.67,282.76 L377.04,282.79 L377.41,282.83 L377.77,282.86 L378.14,282.89 L378.50,282.93 L378.87,282.96 L379.23,282.99 L379.60,283.03 L379.96,283.06 L380.33,283.09 L380.69,283.12 L381.06,283.15 L381.43,283.18 L381.79,283.21 L382.16,283.24 L382.52,283.27 L382.89,283.30 L383.25,283.33 L383.62,283.36 L383.98,283.39 L384.35,283.42 L384.72,283.45 L385.08,283.47 L385.45,283.50 L385.81,283.53 L386.18,283.56 L386.54,283.58 L386.91,283.61 L387.27,283.64 L387.64,283.66 L388.00,283.69 L388.37,283.71 L388.74,283.74 L389.10,283.76 L389.47,283.79 L389.83,283.81 L390.20,283.84 L390.56,283.86 L390.93,283.89 L391.29,283.91 L391.66,283.93 L392.02,283.96 L392.39,283.98 L392.76,284.00 L393.12,284.02 L393.49,284.05 L393.85,284.07 L394.22,284.09 L394.58,284.11 L394.95,284.14 L395.31,284.16 L395.68,284.18 L396.05,284.20 L396.41,284.22 L396.78,284.24 L397.14,284.26 L397.51,284.28 L397.87,284.30 L398.24,284.32 L398.60,284.34 L398.97,284.36 L399.34,284.38 L399.70,284.40 L400.07,284.42 L400.43,284.44 L400.80,284.46 L401.16,284.48 L401.53,284.49 L401.89,284.51 L402.26,284.53 L402.62,284.55 L402.99,284.57 L403.36,284.58 L403.72,284.60 L404.09,284.62 L404.45,284.64 L404.82,284.65 L405.18,284.67 L405.55,284.69 L405.91,284.70 L406.28,284.72 L406.64,284.74 L407.01,284.75 L407.38,284.77 L407.74,284.78 L408.11,284.80 L408.47,284.82 L408.84,284.83 L409.20,284.85 L409.57,284.86 L409.93,284.88 L410.30,284.89 L410.67,284.91 L411.03,284.92 L411.40,284.94 L411.76,284.95 L412.13,284.97 L412.49,284.98 L412.86,285.00 L413.22,285.01 L413.59,285.02 L413.95,285.04 L414.32,285.05 L414.69,285.07 L415.05,285.08 L415.42,285.09 L415.78,285.11 L416.15,285.12 L416.51,285.13 L416.88,285.15 L417.24,285.16 L417.61,285.17 L417.98,285.19 L418.34,285.20 L418.71,285.21 L419.07,285.22 L419.44,285.24 L419.80,285.25 L420.17,285.26 L420.53,285.27 L420.90,285.29 L421.27,285.30 L421.63,285.31 L422.00,285.32 L422.36,285.33 L422.73,285.34 L423.09,285.36 L423.46,285.37 L423.82,285.38 L424.19,285.39 L424.55,285.40 L424.92,285.41 L425.29,285.42 L425.65,285.44 L426.02,285.45 L426.38,285.46 L426.75,285.47 L427.11,285.48 L427.48,285.49 L427.84,285.50 L428.21,285.51 L428.58,285.52 L428.94,285.53 L429.31,285.54 L429.67,285.55 L430.04,285.56 L430.40,285.57 L430.77,285.58 L431.13,285.59 L431.50,285.60 L431.86,285.61 L432.23,285.62 L432.60,285.63 L432.96,285.64 L433.33,285.65 L433.69,285.66 L434.06,285.67 L434.42,285.68 L434.79,285.69 L435.15,285.70 L435.52,285.71 L435.88,285.71 L436.25,285.72 L436.62,285.73 L436.98,285.74 L437.35,285.75 L437.71,285.76 L438.08,285.77 L438.44,285.78 L438.81,285.78 L439.17,285.79 L439.54,285.80 L439.91,285.81 L440.27,285.82 L440.64,285.83 L441.00,285.84 L441.37,285.84 L441.73,285.85 L442.10,285.86 L442.46,285.87 L442.83,285.88 L443.20,285.88 L443.56,285.89 L443.93,285.90 L444.29,285.91 L444.66,285.91 L445.02,285.92 L445.39,285.93 L445.75,285.94 L446.12,285.95 L446.48,285.95 L446.85,285.96 L447.22,285.97 L447.58,285.98 L447.95,285.98 L448.31,285.99 L448.68,286.00 L449.04,286.00 L449.41,286.01 L449.77,286.02 L450.14,286.03 L450.50,286.03 L450.87,286.04 L451.24,286.05 L451.60,286.05 L451.97,286.06 L452.33,286.07 L452.70,286.07 L453.06,286.08 L453.43,286.09 L453.79,286.09 L454.16,286.10 L454.53,286.11 L454.89,286.11 L455.26,286.12 L455.62,286.13 L455.99,286.13 L456.35,286.14 L456.72,286.15 L457.08,286.15 L457.45,286.16 L457.81,286.16 L458.18,286.17 L458.55,286.18 L458.91,286.18 L459.28,286.19 L459.64,286.19 L460.01,286.20 L460.37,286.21 L460.74,286.21 L461.10,286.22 L461.47,286.22 L461.84,286.23 L462.20,286.24 L462.57,286.24 L462.93,286.25 L463.30,286.25 L463.66,286.26 L464.03,286.26 L464.39,286.27 L464.76,286.28 L465.13,286.28 L465.49,286.29 L465.86,286.29 L466.22,286.30 L466.59,286.30 L466.95,286.31 L467.32,286.31 L467.68,286.32 L468.05,286.32 L468.41,286.33 L468.78,286.33 L469.15,286.34 L469.51,286.34 L469.88,286.35 L470.24,286.35 L470.61,286.36 L470.97,286.37 L471.34,286.37 L471.70,286.38 L472.07,286.38 L472.44,286.38 L472.80,286.39 L473.17,286.39 L473.53,286.40 L473.90,286.40 L474.26,286.41 L474.63,286.41 L474.99,286.42 L475.36,286.42 L475.72,286.43 L476.09,286.43 L476.46,286.44 L476.82,286.44 L477.19,286.45 L477.55,286.45 L477.92,286.46 L478.28,286.46 L478.65,286.46 L479.01,286.47 L479.38,286.47 L479.75,286.48 L480.11,286.48 L480.48,286.49 L480.84,286.49 L481.21,286.50 L481.57,286.50 L481.94,286.50 L482.30,286.51 L482.67,286.51 L483.03,286.52 L483.40,286.52" stroke="#0000ff" stroke-width="4.4" stroke-dasharray="6.65 2.75" stroke-dashoffset="2.02"/>
<path d="M265.20,12.21 L265.56,12.45 L265.93,12.77 L266.29,13.16 L266.66,13.62 L267.02,14.15 L267.39,14.76 L267.75,15.44 L268.12,16.20 L268.49,17.04 L268.85,17.96 L269.22,18.96 L269.58,20.04 L269.95,21.20 L270.31,22.44 L270.68,23.78 L271.04,25.19 L271.41,26.70 L271.78,28.29 L272.14,29.96 L272.51,31.73 L272.87,33.58 L273.24,35.53 L273.60,37.56 L273.97,39.67 L274.33,41.87 L274.70,44.16 L275.07,46.53 L275.43,48.98 L275.80,51.50 L276.16,54.11 L276.53,56.78 L276.89,59.53 L277.26,62.34 L277.62,65.22 L277.99,68.15 L278.35,71.14 L278.72,74.19 L279.09,77.27 L279.45,80.41 L279.82,83.57 L280.18,86.78 L280.55,90.01 L280.91,93.26 L281.28,96.53 L281.64,99.82 L282.01,103.11 L282.37,106.41 L282.74,109.72 L283.11,113.01 L283.47,116.30 L283.84,119.58 L284.20,122.84 L284.57,126.08 L284.93,129.30 L285.30,132.49 L285.66,135.65 L286.03,138.78 L286.40,141.88 L286.76,144.93 L287.13,147.95 L287.49,150.92 L287.86,153.85 L288.22,156.74 L288.59,159.58 L288.95,162.37 L289.32,165.12 L289.69,167.81 L290.05,170.45 L290.42,173.04 L290.78,175.58 L291.15,178.07 L291.51,180.51 L291.88,182.90 L292.24,185.23 L292.61,187.51 L292.97,189.74 L293.34,191.92 L293.71,194.05 L294.07,196.13 L294.44,198.17 L294.80,200.15 L295.17,202.08 L295.53,203.97 L295.90,205.81 L296.26,207.61 L296.63,209.36 L297.00,211.07 L297.36,212.73 L297.73,214.35 L298.09,215.93 L298.46,217.47 L298.82,218.97 L299.19,220.44 L299.55,221.86 L299.92,223.25 L300.28,224.60 L300.65,225.92 L301.02,227.20 L301.38,228.46 L301.75,229.67 L302.11,230.86 L302.48,232.02 L302.84,233.14 L303.21,234.24 L303.57,235.31 L303.94,236.35 L304.30,237.36 L304.67,238.35 L305.04,239.32 L305.40,240.26 L305.77,241.17 L306.13,242.06 L306.50,242.93 L306.86,243.78 L307.23,244.61 L307.59,245.41 L307.96,246.20 L308.33,246.96 L308.69,247.71 L309.06,248.44 L309.42,249.15 L309.79,249.84 L310.15,250.52 L310.52,251.18 L310.88,251.82 L311.25,252.45 L311.62,253.06 L311.98,253.66 L312.35,254.25 L312.71,254.82 L313.08,255.37 L313.44,255.92 L313.81,256.45 L314.17,256.97 L314.54,257.48 L314.90,257.97 L315.27,258.45 L315.64,258.93 L316.00,259.39 L316.37,259.84 L316.73,260.28 L317.10,260.72 L317.46,261.14 L317.83,261.55 L318.19,261.96 L318.56,262.35 L318.93,262.74 L319.29,263.12 L319.66,263.49 L320.02,263.85 L320.39,264.20 L320.75,264.55 L321.12,264.89 L321.48,265.22 L321.85,265.55 L322.21,265.87 L322.58,266.18 L322.95,266.48 L323.31,266.78 L323.68,267.08 L324.04,267.36 L324.41,267.65 L324.77,267.92 L325.14,268.19 L325.50,268.46 L325.87,268.72 L326.23,268.97 L326.60,269.22 L326.97,269.47 L327.33,269.71 L327.70,269.95 L328.06,270.18 L328.43,270.41 L328.79,270.63 L329.16,270.85 L329.52,271.06 L329.89,271.27 L330.26,271.48 L330.62,271.68 L330.99,271.88 L331.35,272.08 L331.72,272.27 L332.08,272.46 L332.45,272.64 L332.81,272.83 L333.18,273.00 L333.55,273.18 L333.91,273.35 L334.28,273.52 L334.64,273.69 L335.01,273.85 L335.37,274.01 L335.74,274.17 L336.10,274.33 L336.47,274.48 L336.83,274.63 L337.20,274.78 L337.57,274.92 L337.93,275.07 L338.30,275.21 L338.66,275.35 L339.03,275.48 L339.39,275.62 L339.76,275.75 L340.12,275.88 L340.49,276.00 L340.86,276.13 L341.22,276.25 L341.59,276.37 L341.95,276.49 L342.32,276.61 L342.68,276.73 L343.05,276.84 L343.41,276.95 L343.78,277.07 L344.14,277.17 L344.51,277.28 L344.88,277.39 L345.24,277.49 L345.61,277.59 L345.97,277.70 L346.34,277.80 L346.70,277.89 L347.07,277.99 L347.43,278.09 L347.80,278.18 L348.16,278.27 L348.53,278.36 L348.90,278.45 L349.26,278.54 L349.63,278.63 L349.99,278.71 L350.36,278.80 L350.72,278.88 L351.09,278.97 L351.45,279.05 L351.82,279.13 L352.19,279.21 L352.55,279.28 L352.92,279.36 L353.28,279.44 L353.65,279.51 L354.01,279.59 L354.38,279.66 L354.74,279.73 L355.11,279.80 L355.48,279.87 L355.84,279.94 L356.21,280.01 L356.57,280.08 L356.94,280.14 L357.30,280.21 L357.67,280.27 L358.03,280.34 L358.40,280.40 L358.76,280.46 L359.13,280.53 L359.50,280.59 L359.86,280.65 L360.23,280.71 L360.59,280.76 L360.96,280.82 L361.32,280.88 L361.69,280.93 L362.05,280.99 L362.42,281.05 L362.79,281.10 L363.15,281.15 L363.52,281.21 L363.88,281.26 L364.25,281.31 L364.61,281.36 L364.98,281.41 L365.34,281.46 L365.71,281.51 L366.07,281.56 L366.44,281.61 L366.81,281.66 L367.17,281.70 L367.54,281.75 L367.90,281.80 L368.27,281.84 L368.63,281.89 L369.00,281.93 L369.36,281.97 L369.73,282.02 L370.09,282.06 L370.46,282.10 L370.83,282.14 L371.19,282.19 L371.56,282.23 L371.92,282.27 L372.29,282.31 L372.65,282.35 L373.02,282.39 L373.38,282.43 L373.75,282.46 L374.12,282.50 L374.48,282.54 L374.85,282.58 L375.21,282.61 L375.58,282.65 L375.94,282.69 L376.31,282.72 L376.67,282.76 L377.04,282.79 L377.41,282.83 L377.77,282.86 L378.14,282.89 L378.50,282.93 L378.87,282.96 L379.23,282.99 L379.60,283.03 L379.96,283.06 L380.33,283.09 L380.69,283.12 L381.06,283.15 L381.43,283.18 L381.79,283.21 L382.16,283.24 L382.52,283.27 L382.89,283.30 L383.25,283.33 L383.62,283.36 L383.98,283.39 L384.35,283.42 L384.72,283.45 L385.08,283.47 L385.45,283.50 L385.81,283.53 L386.18,283.56 L386.54,283.58 L386.91,283.61 L387.27,283.64 L387.64,283.66 L388.00,283.69 L388.37,283.71 L388.74,283.74 L389.10,283.76 L389.47,283.79 L389.83,283.81 L390.20,283.84 L390.56,283.86 L390.93,283.89 L391.29,283.91 L391.66,283.93 L392.02,283.96 L392.39,283.98 L392.76,284.00 L393.12,284.02 L393.49,284.05 L393.85,284.07 L394.22,284.09 L394.58,284.11 L394.95,284.14 L395.31,284.16 L395.68,284.18 L396.05,284.20 L396.41,284.22 L396.78,284.24 L397.14,284.26 L397.51,284.28 L397.87,284.30 L398.24,284.32 L398.60,284.34 L398.97,284.36 L399.34,284.38 L399.70,284.40 L400.07,284.42 L400.43,284.44 L400.80,284.46 L401.16,284.48 L401.53,284.49 L401.89,284.51 L402.26,284.53 L402.62,284.55 L402.99,284.57 L403.36,284.58 L403.72,284.60 L404.09,284.62 L404.45,284.64 L404.82,284.65 L405.18,284.67 L405.55,284.69 L405.91,284.70 L406.28,284.72 L406.64,284.74 L407.01,284.75 L407.38,284.77 L407.74,284.78 L408.11,284.80 L408.47,284.82 L408.84,284.83 L409.20,284.85 L409.57,284.86 L409.93,284.88 L410.30,284.89 L410.67,284.91 L411.03,284.92 L411.40,284.94 L411.76,284.95 L412.13,284.97 L412.49,284.98 L412.86,285.00 L413.22,285.01 L413.59,285.02 L413.95,285.04 L414.32,285.05 L414.69,285.07 L415.05,285.08 L415.42,285.09 L415.78,285.11 L416.15,285.12 L416.51,285.13 L416.88,285.15 L417.24,285.16 L417.61,285.17 L417.98,285.19 L418.34,285.20 L418.71,285.21 L419.07,285.22 L419.44,285.24 L419.80,285.25 L420.17,285.26 L420.53,285.27 L420.90,285.29 L421.27,285.30 L421.63,285.31 L422.00,285.32 L422.36,285.33 L422.73,285.34 L423.09,285.36 L423.46,285.37 L423.82,285.38 L424.19,285.39 L424.55,285.40 L424.92,285.41 L425.29,285.42 L425.65,285.44 L426.02,285.45 L426.38,285.46 L426.75,285.47 L427.11,285.48 L427.48,285.49 L427.84,285.50 L428.21,285.51 L428.58,285.52 L428.94,285.53 L429.31,285.54 L429.67,285.55 L430.04,285.56 L430.40,285.57 L430.77,285.58 L431.13,285.59 L431.50,285.60 L431.86,285.61 L432.23,285.62 L432.60,285.63 L432.96,285.64 L433.33,285.65 L433.69,285.66 L434.06,285.67 L434.42,285.68 L434.79,285.69 L435.15,285.70 L435.52,285.71 L435.88,285.71 L436.25,285.72 L436.62,285.73 L436.98,285.74 L437.35,285.75 L437.71,285.76 L438.08,285.77 L438.44,285.78 L438.81,285.78 L439.17,285.79 L439.54,285.80 L439.91,285.81 L440.27,285.82 L440.64,285.83 L441.00,285.84 L441.37,285.84 L441.73,285.85 L442.10,285.86 L442.46,285.87 L442.83,285.88 L443.20,285.88 L443.56,285.89 L443.93,285.90 L444.29,285.91 L444.66,285.91 L445.02,285.92 L445.39,285.93 L445.75,285.94 L446.12,285.95 L446.48,285.95 L446.85,285.96 L447.22,285.97 L447.58,285.98 L447.95,285.98 L448.31,285.99 L448.68,286.00 L449.04,286.00 L449.41,286.01 L449.77,286.02 L450.14,286.03 L450.50,286.03 L450.87,286.04 L451.24,286.05 L451.60,286.05 L451.97,286.06 L452.33,286.07 L452.70,286.07 L453.06,286.08 L453.43,286.09 L453.79,286.09 L454.16,286.10 L454.53,286.11 L454.89,286.11 L455.26,286.12 L455.62,286.13 L455.99,286.13 L456.35,286.14 L456.72,286.15 L457.08,286.15 L457.45,286.16 L457.81,286.16 L458.18,286.17 L458.55,286.18 L458.91,286.18 L459.28,286.19 L459.64,286.19 L460.01,286.20 L460.37,286.21 L460.74,286.21 L461.10,286.22 L461.47,286.22 L461.84,286.23 L462.20,286.24 L462.57,286.24 L462.93,286.25 L463.30,286.25 L463.66,286.26 L464.03,286.26 L464.39,286.27 L464.76,286.28 L465.13,286.28 L465.49,286.29 L465.86,286.29 L466.22,286.30 L466.59,286.30 L466.95,286.31 L467.32,286.31 L467.68,286.32 L468.05,286.32 L468.41,286.33 L468.78,286.33 L469.15,286.34 L469.51,286.34 L469.88,286.35 L470.24,286.35 L470.61,286.36 L470.97,286.37 L471.34,286.37 L471.70,286.38 L472.07,286.38 L472.44,286.38 L472.80,286.39 L473.17,286.39 L473.53,286.40 L473.90,286.40 L474.26,286.41 L474.63,286.41 L474.99,286.42 L475.36,286.42 L475.72,286.43 L476.09,286.43 L476.46,286.44 L476.82,286.44 L477.19,286.45 L477.55,286.45 L477.92,286.46 L478.28,286.46 L478.65,286.46 L479.01,286.47 L479.38,286.47 L479.75,286.48 L480.11,286.48 L480.48,286.49 L480.84,286.49 L481.21,286.50 L481.57,286.50 L481.94,286.50 L482.30,286.51 L482.67,286.51 L483.03,286.52 L483.40,286.52" stroke="#0000ff" stroke-width="4.4" stroke-dasharray="0 4.13 3.75 2000"/>
<path d="M394.6,70.5H457.7" stroke="#0000ff" stroke-width="4.4" stroke-dasharray="6.65 2.75"/>
</g>
<g fill="none" stroke="#000">
<path d="M45,10.5V288.4" stroke-width="2"/>
<path d="M483.5,10.5V288.4" stroke-width="2"/>
<path d="M44,11.43H484.5" stroke-width="1.85"/>
<path d="M44,287.7H484.5" stroke-width="1.45"/>
</g>
<g transform="translate(0,0)" fill="none" stroke="#000" stroke-linecap="round" stroke-linejoin="round"><path d="M333.3,32.8L334.6,28.4H349.1L348.6,32.8" stroke-width="1.1"/><path d="M342.7,28.5L338.5,43.2" stroke-width="2.0" stroke-linecap="butt"/><path d="M334.3,43.4H342.6" stroke-width="0.9"/></g><g transform="translate(0,0)" fill="none" stroke="#000" stroke-width="1.1" stroke-linecap="round"><path d="M357.4,43.2H373.4"/><path d="M369.7,39.2C370.3,41.2 371.6,42.7 373.8,43.2C371.6,43.7 370.3,45.2 369.7,47.2"/></g><text class="s" y="48.0"><tspan class="m h" x="333" dy="-4.6">T</tspan><tspan x="346.9" y="48.0">1</tspan><tspan class="h" x="357">→</tspan><tspan x="375.3" textLength="9.5" lengthAdjust="spacingAndGlyphs">2</tspan></text><g transform="translate(0,32.8)" fill="none" stroke="#000" stroke-linecap="round" stroke-linejoin="round"><path d="M333.3,32.8L334.6,28.4H349.1L348.6,32.8" stroke-width="1.1"/><path d="M342.7,28.5L338.5,43.2" stroke-width="2.0" stroke-linecap="butt"/><path d="M334.3,43.4H342.6" stroke-width="0.9"/></g><g transform="translate(0,32.8)" fill="none" stroke="#000" stroke-width="1.1" stroke-linecap="round"><path d="M357.4,43.2H373.4"/><path d="M369.7,39.2C370.3,41.2 371.6,42.7 373.8,43.2C371.6,43.7 370.3,45.2 369.7,47.2"/></g><text class="s" y="80.8"><tspan class="m h" x="333" dy="-4.6">T</tspan><tspan x="346.9" y="80.8">1</tspan><tspan class="h" x="357">→</tspan><tspan x="375.3" textLength="9.5" lengthAdjust="spacingAndGlyphs">3</tspan></text>
<g fill="#000" stroke="#000" stroke-width="14"><path transform="translate(19.64,266.83) scale(0.02170,-0.02170)" d="M359,0H271V505H101V568C200,568 262,600 301,709H359Z"/><path transform="translate(19.64,18.25) scale(0.02170,-0.02170)" d="M359,0H271V505H101V568C200,568 262,600 301,709H359Z"/><path transform="translate(260.72,317.40) scale(0.02170,-0.02170)" d="M359,0H271V505H101V568C200,568 262,600 301,709H359Z"/><path transform="translate(355.27,317.40) scale(0.02170,-0.02170)" d="M359,0H271V505H101V568C200,568 262,600 301,709H359Z"/><path transform="translate(470.92,317.40) scale(0.02170,-0.02170)" d="M359,0H271V505H101V568C200,568 262,600 301,709H359Z"/><path transform="translate(489.02,317.40) scale(0.02170,-0.02170)" d="M359,0H271V505H101V568C200,568 262,600 301,709H359Z"/></g>
<g transform="translate(0,0)" fill="none" stroke="#000" stroke-linecap="round" stroke-linejoin="round"><path d="M245.6,336.7C243.6,338.6 242.5,341.2 242.5,343.6C242.5,346 243.4,347.4 245,347.4C247.2,347.4 249,345.2 249.7,342.2C249.5,345.4 250.2,347.4 252,347.4C254.6,347.4 256.8,343.4 256.8,339.8C256.8,338 256.4,337 255.8,337" stroke-width="1.25"/><circle cx="255.7" cy="337.7" r="0.9" fill="#000" stroke="none"/></g><g transform="translate(29.2,0)" fill="none" stroke="#000" stroke-linecap="round" stroke-linejoin="round"><path d="M245.6,336.7C243.6,338.6 242.5,341.2 242.5,343.6C242.5,346 243.4,347.4 245,347.4C247.2,347.4 249,345.2 249.7,342.2C249.5,345.4 250.2,347.4 252,347.4C254.6,347.4 256.8,343.4 256.8,339.8C256.8,338 256.4,337 255.8,337" stroke-width="1.25"/><circle cx="255.7" cy="337.7" r="0.9" fill="#000" stroke="none"/></g><path d="M269.3,328.8L260.2,353.4" stroke="#000" stroke-width="1.1" stroke-linecap="round" fill="none"/><text class="s" y="351.5"><tspan class="m h" x="242" dy="-4">ω/ω</tspan><tspan x="286.9" y="351.5" textLength="9.6" lengthAdjust="spacingAndGlyphs">0</tspan></text>
</svg>
</body></html>
